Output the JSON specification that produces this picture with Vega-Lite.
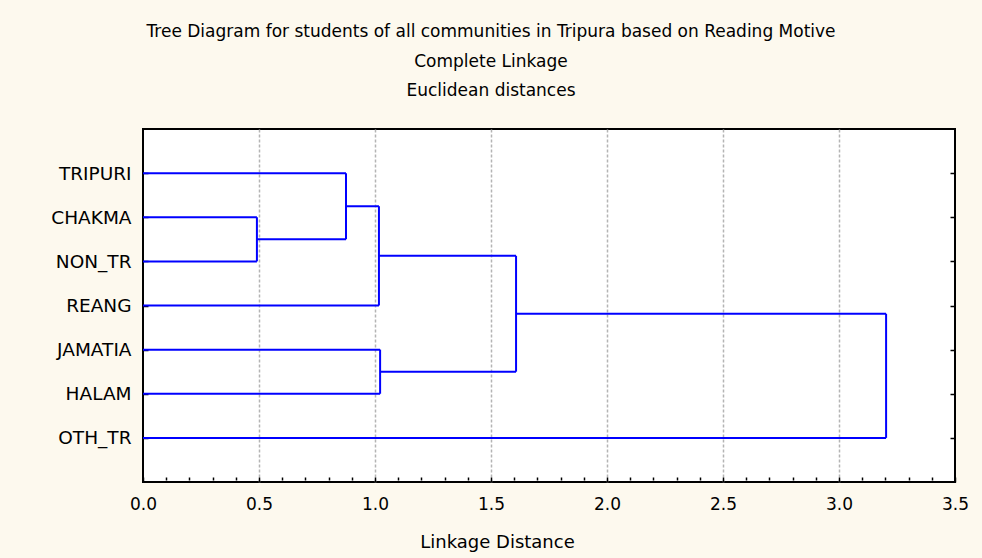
{
  "$schema": "https://vega.github.io/schema/vega-lite/v6.json",
  "width": 812,
  "height": 353,
  "autosize": {"type": "none"},
  "padding": {"left": 143, "top": 129, "right": 27, "bottom": 76},
  "background": "#fdf9ee",
  "config": {
    "view": {"fill": "white", "stroke": "black", "strokeWidth": 2},
    "font": "DejaVu Sans"
  },
  "title": {
    "text": ["Tree Diagram for students of all communities in Tripura based on  Reading Motive", "Complete Linkage", "Euclidean distances"],
    "font": "DejaVu Sans",
    "fontSize": 17,
    "fontWeight": "normal",
    "color": "black",
    "lineHeight": 29.5,
    "anchor": "middle",
    "dx": -58,
    "offset": 29
  },
  "data": {
    "values": [
      {"seg": "TRIPURI", "d1": 0, "d2": 0.875, "p1": 1, "p2": 1},
      {"seg": "CHAKMA", "d1": 0, "d2": 0.491, "p1": 2, "p2": 2},
      {"seg": "NON_TR", "d1": 0, "d2": 0.491, "p1": 3, "p2": 3},
      {"seg": "REANG", "d1": 0, "d2": 1.017, "p1": 4, "p2": 4},
      {"seg": "JAMATIA", "d1": 0, "d2": 1.022, "p1": 5, "p2": 5},
      {"seg": "HALAM", "d1": 0, "d2": 1.022, "p1": 6, "p2": 6},
      {"seg": "OTH_TR", "d1": 0, "d2": 3.203, "p1": 7, "p2": 7},
      {"seg": "A-h", "d1": 0.491, "d2": 0.875, "p1": 2.5, "p2": 2.5},
      {"seg": "B-h", "d1": 0.875, "d2": 1.017, "p1": 1.75, "p2": 1.75},
      {"seg": "C-h", "d1": 1.017, "d2": 1.608, "p1": 2.875, "p2": 2.875},
      {"seg": "D-h", "d1": 1.022, "d2": 1.608, "p1": 5.5, "p2": 5.5},
      {"seg": "E-h", "d1": 1.608, "d2": 3.203, "p1": 4.1875, "p2": 4.1875},
      {"seg": "A-v", "d1": 0.491, "d2": 0.491, "p1": 2, "p2": 3},
      {"seg": "B-v", "d1": 0.875, "d2": 0.875, "p1": 1, "p2": 2.5},
      {"seg": "C-v", "d1": 1.017, "d2": 1.017, "p1": 1.75, "p2": 4},
      {"seg": "D-v", "d1": 1.022, "d2": 1.022, "p1": 5, "p2": 6},
      {"seg": "E-v", "d1": 1.608, "d2": 1.608, "p1": 2.875, "p2": 5.5},
      {"seg": "F-v", "d1": 3.203, "d2": 3.203, "p1": 4.1875, "p2": 7}
    ]
  },
  "layer": [
    {
      "mark": {"type": "rule", "strokeOpacity": 0},
      "encoding": {
        "x": {
          "field": "d1",
          "type": "quantitative",
          "scale": {"domain": [0, 3.5], "nice": false, "zero": false},
          "axis": {
            "orient": "bottom",
            "title": null,
            "labels": false,
            "ticks": false,
            "domain": false,
            "values": [0.5, 1, 1.5, 2, 2.5, 3],
            "grid": true,
            "gridColor": "#b4b4b4",
            "gridDash": [3, 2],
            "gridWidth": 1.5
          }
        },
        "x2": {"field": "d2"},
        "y": {
          "field": "p1",
          "type": "quantitative",
          "scale": {"domain": [0, 8], "reverse": true, "nice": false, "zero": false},
          "axis": {
            "orient": "right",
            "offset": -5,
            "title": null,
            "values": [1, 2, 3, 4, 5, 6, 7],
            "labels": false,
            "domain": false,
            "grid": false,
            "tickColor": "black",
            "tickWidth": 1.5,
            "tickSize": 5
          }
        },
        "y2": {"field": "p2"}
      }
    },
    {
      "mark": {"type": "rule", "color": "#0000ff", "strokeWidth": 2},
      "encoding": {
        "x": {
          "field": "d1",
          "type": "quantitative",
          "scale": {"domain": [0, 3.5], "nice": false, "zero": false},
          "axis": {
            "orient": "bottom",
            "offset": -5,
            "title": "Linkage Distance",
            "titleFont": "DejaVu Sans",
            "titleFontSize": 18,
            "titleFontWeight": "normal",
            "titleColor": "black",
            "titlePadding": 21,
            "titleX": 354,
            "values": [0, 0.1, 0.2, 0.3, 0.4, 0.5, 0.6, 0.7, 0.8, 0.9, 1, 1.1, 1.2, 1.3, 1.4, 1.5, 1.6, 1.7, 1.8, 1.9, 2, 2.1, 2.2, 2.3, 2.4, 2.5, 2.6, 2.7, 2.8, 2.9, 3, 3.1, 3.2, 3.3, 3.4, 3.5],
            "labelExpr": "abs(datum.value * 2 - round(datum.value * 2)) < 0.01 ? format(datum.value, '.1f') : ''",
            "labelFont": "DejaVu Sans",
            "labelFontSize": 17,
            "labelColor": "black",
            "labelPadding": 14,
            "labelFlush": false,
            "labelOverlap": false,
            "domain": false,
            "grid": false,
            "tickColor": "black",
            "tickWidth": 1.5,
            "tickSize": {"condition": {"test": "abs(datum.value * 2 - round(datum.value * 2)) < 0.01", "value": 5}, "value": 3}
          }
        },
        "x2": {"field": "d2"},
        "y": {
          "field": "p1",
          "type": "quantitative",
          "scale": {"domain": [0, 8], "reverse": true, "nice": false, "zero": false},
          "axis": {
            "orient": "left",
            "offset": -5,
            "title": null,
            "values": [1, 2, 3, 4, 5, 6, 7],
            "labelExpr": "['', 'TRIPURI', 'CHAKMA', 'NON_TR', 'REANG', 'JAMATIA', 'HALAM', 'OTH_TR'][datum.value]",
            "labelFont": "DejaVu Sans",
            "labelFontSize": 18.5,
            "labelColor": "black",
            "labelPadding": 12,
            "domain": false,
            "grid": false,
            "tickColor": "black",
            "tickWidth": 1.5,
            "tickSize": 5
          }
        },
        "y2": {"field": "p2"}
      }
    }
  ],
  "resolve": {"axis": {"x": "independent", "y": "independent"}}
}
